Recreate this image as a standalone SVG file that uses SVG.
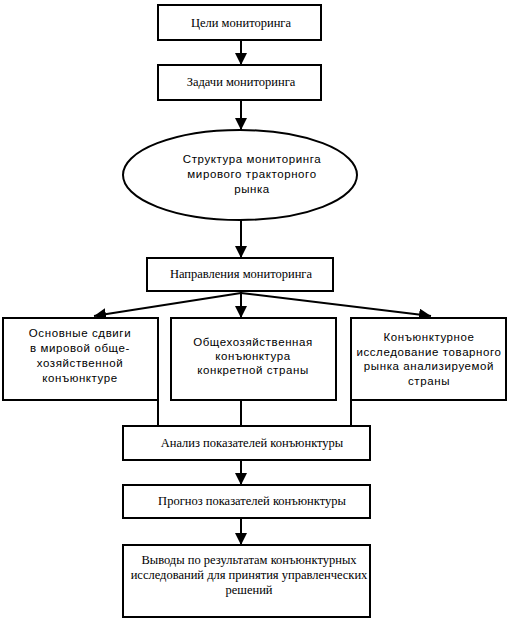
<svg xmlns="http://www.w3.org/2000/svg" width="511" height="623" viewBox="0 0 511 623">
<style>
.b{fill:#fff;stroke:#000;stroke-width:2}
.t{font-family:"Liberation Serif","Times New Roman",serif;font-size:12.5px;fill:#000;text-anchor:middle}
.s{font-family:"Liberation Sans",Arial,sans-serif;font-size:11.5px;letter-spacing:0.6px;fill:#000;text-anchor:middle}
.c{stroke:#000;stroke-width:2;fill:none}
</style>
<defs>
<marker id="ah" markerUnits="userSpaceOnUse" markerWidth="12" markerHeight="12" refX="12" refY="6" orient="auto" viewBox="0 0 12 12">
<path d="M0,0 L12,6 L0,12 Z" fill="#000"/>
</marker>
</defs>
<rect width="511" height="623" fill="#fff"/>
<g id="connectors">
<line class="c" x1="241" y1="40" x2="241" y2="65" marker-end="url(#ah)"/>
<line class="c" x1="241" y1="100" x2="241" y2="130" marker-end="url(#ah)"/>
<line class="c" x1="241" y1="220" x2="241" y2="258" marker-end="url(#ah)"/>
<line class="c" x1="241" y1="291" x2="241" y2="318" marker-end="url(#ah)"/>
<line class="c" x1="241" y1="293" x2="94" y2="316" marker-end="url(#ah)"/>
<line class="c" x1="241" y1="293" x2="431" y2="316" marker-end="url(#ah)"/>
<line class="c" x1="158" y1="400" x2="158" y2="426"/>
<line class="c" x1="241" y1="400" x2="241" y2="426"/>
<line class="c" x1="351" y1="400" x2="351" y2="426"/>
<line class="c" x1="241" y1="460" x2="241" y2="485" marker-end="url(#ah)"/>
<line class="c" x1="241" y1="518" x2="241" y2="545" marker-end="url(#ah)"/>
</g>
<g id="n1"><rect class="b" x="158" y="5" width="163" height="35"/><text class="t" x="241" y="27">Цели мониторинга</text></g>
<g id="n2"><rect class="b" x="158" y="65" width="163" height="35"/><text class="t" x="241" y="86">Задачи мониторинга</text></g>
<g id="n3"><ellipse class="b" cx="240" cy="175" rx="117" ry="45"/>
<text class="s" x="252" y="163">Структура мониторинга</text>
<text class="s" x="252" y="178">мирового тракторного</text>
<text class="s" x="252" y="193">рынка</text></g>
<g id="n4"><rect class="b" x="147" y="258" width="186" height="33"/><text class="t" x="241" y="278">Направления мониторинга</text></g>
<g id="n5"><rect class="b" x="3" y="318" width="155" height="82"/>
<text class="s" x="80" y="337">Основные сдвиги</text>
<text class="s" x="80" y="352">в мировой обще-</text>
<text class="s" x="80" y="367">хозяйственной</text>
<text class="s" x="80" y="382">конъюнктуре</text></g>
<g id="n6"><rect class="b" x="171" y="318" width="165" height="82"/>
<text class="s" x="253" y="346">Общехозяйственная</text>
<text class="s" x="253" y="360">конъюнктура</text>
<text class="s" x="253" y="374">конкретной страны</text></g>
<g id="n7"><rect class="b" x="351" y="318" width="155" height="82"/>
<text class="s" x="429" y="341">Конъюнктурное</text>
<text class="s" x="429" y="356">исследование товарного</text>
<text class="s" x="429" y="370">рынка анализируемой</text>
<text class="s" x="429" y="385">страны</text></g>
<g id="n8"><rect class="b" x="123" y="426" width="247" height="34"/><text class="t" x="252" y="447">Анализ показателей конъюнктуры</text></g>
<g id="n9"><rect class="b" x="123" y="485" width="247" height="33"/><text class="t" x="252" y="505">Прогноз показателей конъюнктуры</text></g>
<g id="n10"><rect class="b" x="123" y="545" width="247" height="72"/>
<text class="t" x="249" y="564">Выводы по результатам конъюнктурных</text>
<text class="t" x="249" y="579">исследований для принятия управленческих</text>
<text class="t" x="249" y="594">решений</text></g>
</svg>
